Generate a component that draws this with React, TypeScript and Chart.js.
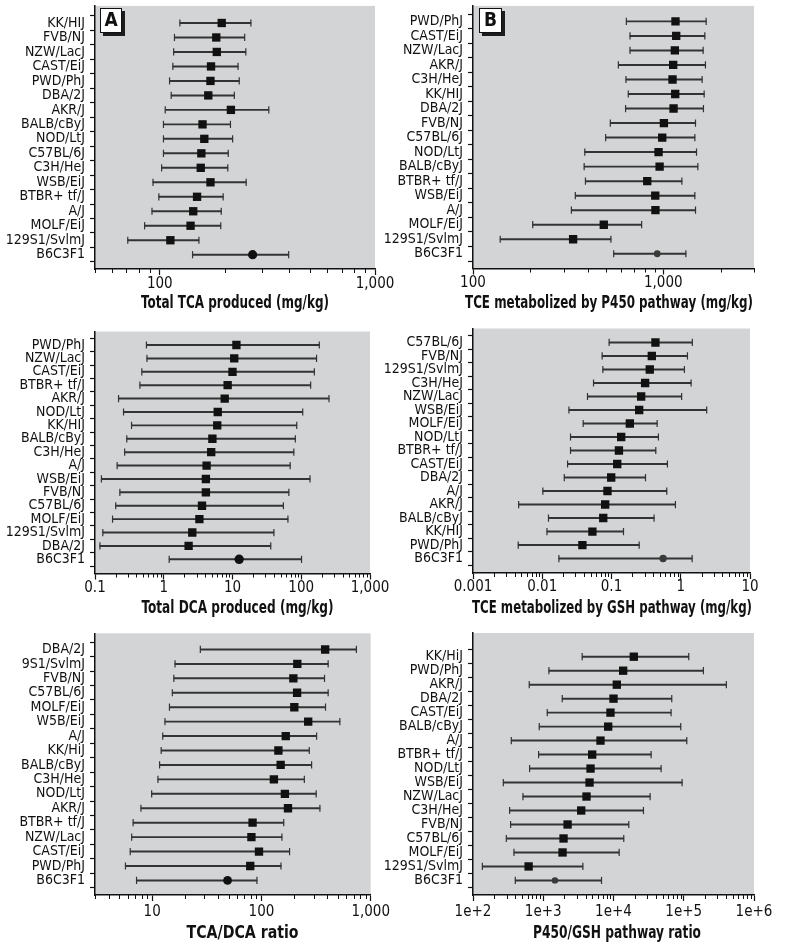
import React, { useEffect, useRef } from "react";
import { Chart, registerables } from "chart.js";

Chart.register(...registerables);

// ---------- Data ----------
// Panel A: Total TCA produced (mg/kg)
const strainsA = ["KK/HIJ", "FVB/NJ", "NZW/LacJ", "CAST/EiJ", "PWD/PhJ", "DBA/2J", "AKR/J", "BALB/cByJ", "NOD/LtJ", "C57BL/6J", "C3H/HeJ", "WSB/EiJ", "BTBR+ tf/J", "A/J", "MOLF/EiJ", "129S1/SvlmJ", "B6C3F1"];
const meanA = [194, 183, 184, 173, 172, 168, 214, 158, 161, 156, 155, 172, 149, 143, 139, 112, 270];
const lowA = [124, 117, 116, 115, 111, 113, 106, 104, 104, 104, 102, 93, 99, 92, 85, 71, 142];
const highA = [265, 248, 251, 231, 234, 222, 321, 213, 218, 208, 207, 252, 197, 193, 192, 152, 397];

// Panel B: TCE metabolized by P450 pathway (mg/kg)
const strainsB = ["PWD/PhJ", "CAST/EiJ", "NZW/LacJ", "AKR/J", "C3H/HeJ", "KK/HIJ", "DBA/2J", "FVB/NJ", "C57BL/6J", "NOD/LtJ", "BALB/cByJ", "BTBR+ tf/J", "WSB/EiJ", "A/J", "MOLF/EiJ", "129S1/SvlmJ", "B6C3F1"];
const meanB = [1160, 1170, 1151, 1128, 1119, 1156, 1133, 1008, 988, 945, 957, 824, 908, 910, 487, 336, 930];
const lowB = [640, 669, 669, 581, 637, 655, 634, 527, 498, 387, 384, 390, 345, 329, 206, 139, 549];
const highB = [1681, 1654, 1621, 1667, 1601, 1641, 1627, 1478, 1466, 1496, 1520, 1253, 1466, 1478, 770, 531, 1315];

// Panel C: Total DCA produced (mg/kg)
const strainsC = ["PWD/PhJ", "NZW/LacJ", "CAST/EiJ", "BTBR+ tf/J", "AKR/J", "NOD/LtJ", "KK/HIJ", "BALB/cByJ", "C3H/HeJ", "A/J", "WSB/EiJ", "FVB/NJ", "C57BL/6J", "MOLF/EiJ", "129S1/SvlmJ", "DBA/2J", "B6C3F1"];
const meanC = [11.4, 10.6, 10, 8.5, 7.7, 6.1, 6.0, 5.1, 4.9, 4.2, 4.1, 4.1, 3.6, 3.3, 2.6, 2.3, 12.5];
const lowC = [0.56, 0.57, 0.48, 0.45, 0.22, 0.26, 0.34, 0.29, 0.27, 0.21, 0.124, 0.23, 0.2, 0.18, 0.13, 0.118, 1.2];
const highC = [183, 167, 155, 137, 253, 105, 86, 82, 78, 69, 134, 66, 55, 64, 40, 36, 101];

// Panel D: TCE metabolized by GSH pathway (mg/kg)
const strainsD = ["C57BL/6J", "FVB/NJ", "129S1/SvlmJ", "C3H/HeJ", "NZW/LacJ", "WSB/EiJ", "MOLF/EiJ", "NOD/LtJ", "BTBR+ tf/J", "CAST/EiJ", "DBA/2J", "A/J", "AKR/J", "BALB/cByJ", "KK/HIJ", "PWD/PhJ", "B6C3F1"];
const meanD = [0.431, 0.382, 0.357, 0.306, 0.268, 0.251, 0.184, 0.138, 0.128, 0.121, 0.099, 0.0875, 0.081, 0.076, 0.053, 0.038, 0.556];
const lowD = [0.0925, 0.0733, 0.075, 0.055, 0.045, 0.0243, 0.039, 0.0256, 0.0256, 0.0232, 0.0208, 0.0102, 0.00456, 0.0123, 0.0117, 0.0045, 0.0174];
const highD = [1.47, 1.25, 1.13, 1.41, 1.03, 2.37, 0.456, 0.476, 0.436, 0.642, 0.31, 0.628, 0.838, 0.412, 0.149, 0.251, 1.46];

// Panel E: TCA/DCA ratio
const strainsE = ["DBA/2J", "9S1/SvlmJ", "FVB/NJ", "C57BL/6J", "MOLF/EiJ", "W5B/EiJ", "A/J", "KK/HiJ", "BALB/cByJ", "C3H/HeJ", "NOD/LtJ", "AKR/J", "BTBR+ tf/J", "NZW/LacJ", "CAST/EiJ", "PWD/PhJ", "B6C3F1"];
const meanE = [383, 213, 196, 212, 200, 268, 167, 143, 150, 130, 164, 175, 83, 81, 95, 79, 49];
const lowE = [27.6, 16.2, 15.8, 15.3, 14.4, 13.1, 12.5, 12.1, 11.7, 11.3, 9.9, 7.9, 6.7, 6.5, 6.3, 5.7, 7.2];
const highE = [740, 408, 378, 408, 386, 522, 320, 274, 288, 247, 317, 343, 160, 154, 181, 151, 91];

// Panel F: P450/GSH pathway ratio
const strainsF = ["KK/HiJ", "PWD/PhJ", "AKR/J", "DBA/2J", "CAST/EiJ", "BALB/cByJ", "A/J", "BTBR+ tf/J", "NOD/LtJ", "WSB/EiJ", "NZW/LacJ", "C3H/HeJ", "FVB/NJ", "C57BL/6J", "MOLF/EiJ", "129S1/SvlmJ", "B6C3F1"];
const meanF = [19450, 13720, 11150, 10000, 9060, 8400, 6530, 4970, 4710, 4560, 4130, 3470, 2220, 1945, 1883, 619, 1466];
const lowF = [3585, 1204, 632, 1863, 1140, 877, 351, 858, 639, 270, 514, 332, 343, 298, 383, 136, 400];
const highF = [117800, 190400, 404000, 67500, 66000, 90600, 110400, 34300, 47600, 94700, 33200, 26700, 16500, 14000, 12040, 3664, 6750];

const REFERENCE = "B6C3F1";

// ---------- helpers ----------
const FONT = "'Liberation Sans Narrow', 'DejaVu Sans Condensed', 'Arial Narrow', sans-serif";
const BG = "rgb(211,212,213)";
const INK = "#111111";
const WHISKER = "#333333";

const isPow10 = (v: number) => {
  const l = Math.log10(v);
  return Math.abs(l - Math.round(l)) < 1e-6;
};

const logTicks = (min: number, max: number) => {
  const out: number[] = [];
  for (let k = Math.floor(Math.log10(min)); k <= Math.ceil(Math.log10(max)); k++) {
    for (let m = 1; m <= 9; m++) {
      const v = m * Math.pow(10, k);
      if (v >= min * (1 - 1e-9) && v <= max * (1 + 1e-9)) out.push(v);
    }
  }
  return out;
};

const fmtComma = (v: number) => v.toLocaleString("en-US", { maximumFractionDigits: 4 });
const fmtExp = (v: number) => "1e+" + Math.round(Math.log10(v));

type Box = { x: number; y: number; w: number; h: number };
type Rect = { l: number; t: number; r: number; b: number };

interface PanelProps {
  canvas: Box;
  plot: Rect;
  rowFirst: number;
  rowLast: number;
  labels: string[];
  mean: number[];
  low: number[];
  high: number[];
  xMin: number;
  xMax: number;
  fmt: (v: number) => string;
  title: string;
  titleBox: { cx: number; cy: number; w: number };
  labelPad: number;
  refRadius: number;
  refColor: string;
  letter?: { x: number; y: number; w: number; h: number; text: string };
}

function Panel(p: PanelProps) {
  const ref = useRef<HTMLCanvasElement | null>(null);

  useEffect(() => {
    if (!ref.current) return;
    const { canvas, plot, labels, mean, low, high } = p;
    const n = labels.length;
    const s = (p.rowLast - p.rowFirst) / (n - 1);
    const yMin = -(p.rowFirst - plot.t) / s;
    const yMax = n - 1 + (plot.b - p.rowLast) / s;

    const strainPts: { x: number; y: number }[] = [];
    const refPts: { x: number; y: number }[] = [];
    labels.forEach((lab, i) => {
      (lab === REFERENCE ? refPts : strainPts).push({ x: mean[i], y: i });
    });
    const capPts = [
      ...low.map((v, i) => ({ x: v, y: i })),
      ...high.map((v, i) => ({ x: v, y: i })),
    ];
    const bars = labels.map((_, i) => ({ x: [low[i], high[i]], y: i }));

    const bgPlugin = {
      id: "plotBg",
      beforeDraw(chart: any) {
        const { ctx, chartArea: a } = chart;
        ctx.save();
        ctx.fillStyle = BG;
        ctx.fillRect(a.left, a.top, a.right - a.left, a.bottom - a.top);
        ctx.restore();
      },
    };

    const extrasPlugin = {
      id: "extras",
      afterDraw(chart: any) {
        const ctx = chart.ctx;
        const sc = chart.scales.x;
        ctx.save();
        // minor log ticks (shorter)
        ctx.strokeStyle = INK;
        ctx.lineWidth = 1;
        ctx.beginPath();
        for (const t of sc.ticks) {
          if (isPow10(t.value)) continue;
          const px = Math.round(sc.getPixelForValue(t.value)) + 0.5;
          ctx.moveTo(px, sc.top);
          ctx.lineTo(px, sc.top + 4);
        }
        ctx.stroke();
        // axis title (condensed bold)
        const T = p.titleBox;
        ctx.fillStyle = INK;
        ctx.font = "bold 18px " + FONT;
        ctx.textAlign = "center";
        ctx.textBaseline = "middle";
        ctx.fillText(p.title, T.cx - canvas.x, T.cy - canvas.y, T.w);
        // panel letter box
        if (p.letter) {
          const L = p.letter;
          const x = L.x - canvas.x;
          const y = L.y - canvas.y;
          ctx.fillStyle = "#1c1c1c";
          ctx.fillRect(x + 3, y + 3, L.w, L.h);
          ctx.fillStyle = "#ffffff";
          ctx.fillRect(x, y, L.w, L.h);
          ctx.strokeStyle = INK;
          ctx.lineWidth = 1;
          ctx.strokeRect(x + 0.5, y + 0.5, L.w - 1, L.h - 1);
          ctx.fillStyle = INK;
          ctx.font = "bold 19px " + FONT;
          ctx.fillText(L.text, x + L.w / 2, y + L.h / 2 + 1);
        }
        ctx.restore();
      },
    };

    const chart = new Chart(ref.current, {
      type: "scatter",
      data: {
        datasets: [
          {
            type: "scatter",
            data: strainPts,
            pointStyle: "rect",
            pointRadius: 5.9,
            pointBackgroundColor: INK,
            pointBorderWidth: 0,
            order: 0,
          },
          {
            type: "scatter",
            data: refPts,
            pointStyle: "circle",
            pointRadius: p.refRadius,
            pointBackgroundColor: p.refColor,
            pointBorderWidth: 0,
            order: 0,
          },
          {
            type: "scatter",
            data: capPts,
            pointStyle: "line",
            pointRotation: 90,
            pointRadius: 3.6,
            pointBorderColor: WHISKER,
            pointBorderWidth: 1.2,
            pointBackgroundColor: "rgba(0,0,0,0)",
            order: 1,
          },
          {
            type: "bar",
            indexAxis: "y",
            data: bars as any,
            backgroundColor: WHISKER,
            borderWidth: 0,
            barThickness: 1.3,
            grouped: false,
            order: 2,
          } as any,
        ],
      },
      options: {
        responsive: false,
        animation: false,
        events: [],
        layout: {
          padding: {
            left: 0,
            top: plot.t - canvas.y,
            right: canvas.x + canvas.w - plot.r,
            bottom: 0,
          },
        },
        plugins: { legend: { display: false }, tooltip: { enabled: false } },
        scales: {
          x: {
            type: "logarithmic",
            min: p.xMin,
            max: p.xMax,
            afterBuildTicks: (sc: any) => {
              sc.ticks = logTicks(p.xMin, p.xMax).map((v) => ({ value: v }));
            },
            afterFit: (sc: any) => {
              sc.height = canvas.h - (plot.b - canvas.y);
              sc.paddingLeft = 0;
              sc.paddingRight = 0;
            },
            ticks: {
              autoSkip: false,
              maxRotation: 0,
              minRotation: 0,
              padding: p.labelPad,
              color: INK,
              font: { family: FONT, size: 15 },
              callback: (v: any) => (isPow10(Number(v)) ? p.fmt(Number(v)) : ""),
            },
            grid: {
              drawOnChartArea: false,
              drawTicks: true,
              tickLength: 6,
              tickWidth: 1.2,
              tickColor: (c: any) => (c.tick && isPow10(c.tick.value) ? INK : "rgba(0,0,0,0)"),
            },
            border: { display: true, color: INK, width: 1.5 },
            title: { display: false },
          },
          y: {
            type: "linear",
            reverse: true,
            min: yMin,
            max: yMax,
            afterBuildTicks: (sc: any) => {
              sc.ticks = labels.map((_, i) => ({ value: i }));
            },
            afterFit: (sc: any) => {
              sc.width = plot.l - canvas.x;
              sc.paddingTop = 0;
              sc.paddingBottom = 0;
            },
            ticks: {
              autoSkip: false,
              padding: 5,
              color: INK,
              font: { family: FONT, size: 14 },
              callback: (v: any) => labels[Math.round(Number(v))] ?? "",
            },
            grid: {
              drawOnChartArea: false,
              drawTicks: true,
              tickLength: 5,
              tickWidth: 1.2,
              tickColor: INK,
            },
            border: { display: true, color: INK, width: 1.5 },
          },
        },
      } as any,
      plugins: [bgPlugin, extrasPlugin],
    });
    return () => chart.destroy();
  }, []);

  return (
    <canvas
      ref={ref}
      width={p.canvas.w}
      height={p.canvas.h}
      style={{ position: "absolute", left: p.canvas.x, top: p.canvas.y, width: p.canvas.w, height: p.canvas.h }}
    />
  );
}

export default function App() {
  return (
    <div style={{ position: "absolute", left: 0, top: 0, width: 800, height: 944, background: "#ffffff", overflow: "hidden" }}>
      <Panel
        canvas={{ x: 0, y: 0, w: 395, h: 318 }}
        plot={{ l: 95, t: 4, r: 375, b: 269 }}
        rowFirst={14}
        rowLast={262}
        labels={strainsA}
        mean={meanA}
        low={lowA}
        high={highA}
        xMin={50}
        xMax={1000}
        fmt={fmtComma}
        title="Total TCA produced (mg/kg)"
        titleBox={{ cx: 235, cy: 303.3, w: 188 }}
        labelPad={0}
        refRadius={4.6}
        refColor={INK}
        letter={{ x: 100, y: 8, w: 22, h: 25, text: "A" }}
      />
      <Panel
        canvas={{ x: 380, y: 0, w: 420, h: 318 }}
        plot={{ l: 473, t: 4, r: 754, b: 268.5 }}
        rowFirst={12.3}
        rowLast={261}
        labels={strainsB}
        mean={meanB}
        low={lowB}
        high={highB}
        xMin={100}
        xMax={3000}
        fmt={fmtComma}
        title="TCE metabolized by P450 pathway (mg/kg)"
        titleBox={{ cx: 609, cy: 303.3, w: 288 }}
        labelPad={0}
        refRadius={3.4}
        refColor="#3a3a3a"
        letter={{ x: 479, y: 8, w: 23, h: 25, text: "B" }}
      />
      <Panel
        canvas={{ x: 0, y: 318, w: 395, h: 302 }}
        plot={{ l: 95, t: 331.5, r: 370, b: 573.5 }}
        rowFirst={338.3}
        rowLast={566}
        labels={strainsC}
        mean={meanC}
        low={lowC}
        high={highC}
        xMin={0.1}
        xMax={1000}
        fmt={fmtComma}
        title="Total DCA produced (mg/kg)"
        titleBox={{ cx: 237.5, cy: 608.3, w: 192 }}
        labelPad={-0.5}
        refRadius={4.7}
        refColor={INK}
      />
      <Panel
        canvas={{ x: 380, y: 318, w: 420, h: 302 }}
        plot={{ l: 473, t: 328.5, r: 750, b: 573 }}
        rowFirst={335.7}
        rowLast={565.3}
        labels={strainsD}
        mean={meanD}
        low={lowD}
        high={highD}
        xMin={0.001}
        xMax={10}
        fmt={fmtComma}
        title="TCE metabolized by GSH pathway (mg/kg)"
        titleBox={{ cx: 612, cy: 608.3, w: 280 }}
        labelPad={-0.5}
        refRadius={3.7}
        refColor="#3a3a3a"
      />
      <Panel
        canvas={{ x: 0, y: 620, w: 395, h: 324 }}
        plot={{ l: 95, t: 633.3, r: 370.7, b: 895 }}
        rowFirst={642.3}
        rowLast={887.7}
        labels={strainsE}
        mean={meanE}
        low={lowE}
        high={highE}
        xMin={3}
        xMax={1000}
        fmt={fmtComma}
        title="TCA/DCA ratio"
        titleBox={{ cx: 242.5, cy: 933.3, w: 112 }}
        labelPad={2}
        refRadius={4.4}
        refColor={INK}
      />
      <Panel
        canvas={{ x: 380, y: 620, w: 420, h: 324 }}
        plot={{ l: 473, t: 633, r: 754, b: 895 }}
        rowFirst={650}
        rowLast={887.7}
        labels={strainsF}
        mean={meanF}
        low={lowF}
        high={highF}
        xMin={100}
        xMax={1000000}
        fmt={fmtExp}
        title="P450/GSH pathway ratio"
        titleBox={{ cx: 617, cy: 933.3, w: 168 }}
        labelPad={2}
        refRadius={3.2}
        refColor="#3a3a3a"
      />
    </div>
  );
}
